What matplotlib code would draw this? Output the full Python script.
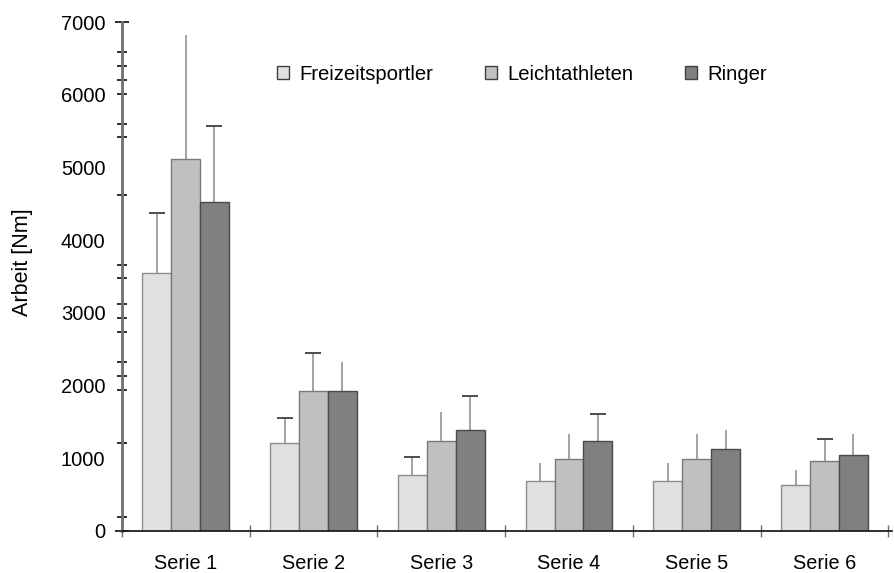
import numpy as np
import matplotlib
matplotlib.use("Agg")
from matplotlib import pyplot as plt

plt.rcParams['font.family'] = ['Liberation Sans', 'DejaVu Sans']

serien = ["Serie 1", "Serie 2", "Serie 3", "Serie 4", "Serie 5", "Serie 6"]
gruppen = ["Freizeitsportler", "Leichtathleten", "Ringer"]

freizeit = [3550, 1205, 770, 690, 690, 630]
freizeit_sd = [820, 355, 245, 240, 240, 210]
leicht = [5115, 1925, 1235, 985, 985, 965]
leicht_sd = [1705, 520, 400, 350, 350, 295]
ringer = [4525, 1925, 1390, 1235, 1125, 1040]
ringer_sd = [1045, 400, 470, 380, 265, 295]

# which error bars have a visible cap in the original
freizeit_cap = [1, 1, 1, 0, 0, 0]
leicht_cap = [0, 1, 0, 0, 0, 1]
ringer_cap = [1, 0, 1, 1, 0, 0]

y_labels = [0, 1000, 2000, 3000, 4000, 5000, 6000, 7000]
y_minor = [190, 1205, 1940, 2130, 2330, 2735, 2925, 3120, 3480, 3660,
           4620, 5415, 5600, 6010, 6200, 6400, 6590]

farben = ["#e0e0e0", "#c0c0c0", "#808080"]
kanten = ["#8c8c8c", "#7a7a7a", "#4a4a4a"]

fig = plt.figure(figsize=(8.95, 5.73), dpi=100)
ax = fig.add_axes([0.136, 0.0733, 0.861, 0.888])

x = np.arange(len(serien))
w = 0.226
daten = [(freizeit, freizeit_sd, freizeit_cap),
         (leicht, leicht_sd, leicht_cap),
         (ringer, ringer_sd, ringer_cap)]
for i, (werte, sd, cap) in enumerate(daten):
    pos = x + (i - 1) * w
    ax.bar(pos, werte, w, color=farben[i], edgecolor=kanten[i], linewidth=1.0,
           label=gruppen[i], zorder=2)
    for j in range(len(serien)):
        ax.errorbar(pos[j], werte[j], yerr=[[0], [sd[j]]], fmt='none',
                    ecolor="#8a8a8a", elinewidth=1.1, capsize=0, zorder=1)
        # darker cap line
        if cap[j]:
            ax.errorbar(pos[j], werte[j] + sd[j], yerr=[[0], [0]], fmt='none',
                        ecolor="#505050", elinewidth=0, capsize=5.5,
                        capthick=1.3, zorder=1)

ax.set_xlim(-0.5, 5.53)
ax.set_ylim(0, 7000)

ax.set_xticks(np.arange(-0.5, 6, 1.0))
ax.set_xticklabels([])
ax.set_xticks(x, minor=True)
ax.set_xticklabels(serien, minor=True, fontsize=14.3)
ax.tick_params(axis='x', which='major', direction='inout', length=8.5,
               width=1.0, color="#707070")
ax.tick_params(axis='x', which='minor', length=0, pad=16.5)

ax.set_yticks(y_labels)
ax.set_yticklabels([str(v) for v in y_labels], fontsize=14.5)
ax.set_yticks(y_minor, minor=True)
ax.tick_params(axis='y', which='major', direction='inout', length=9.4,
               width=1.4, color="#303030", pad=7)
ax.tick_params(axis='y', which='minor', direction='inout', length=6.5,
               width=1.4, color="#303030")
for t, v in zip(ax.yaxis.get_major_ticks(), y_labels):
    if v not in (0, 7000):
        t.tick1line.set_visible(False)

ax.spines['top'].set_visible(False)
ax.spines['right'].set_visible(False)
ax.spines['left'].set_color("#707070")
ax.spines['left'].set_linewidth(2.0)
ax.spines['bottom'].set_color("#202020")
ax.spines['bottom'].set_linewidth(1.3)

ax.set_ylabel("Arbeit [Nm]", fontsize=15.5)
ax.yaxis.set_label_coords(-0.115, 0.529)

leg = ax.legend(loc='center left', bbox_to_anchor=(277 / 895, 1 - 74 / 573),
                bbox_transform=fig.transFigure, ncol=3, frameon=False,
                fontsize=14.6, handlelength=0.6, handleheight=0.6,
                handletextpad=0.5, columnspacing=2.55, borderpad=0,
                borderaxespad=0)
for h in leg.legend_handles:
    h.set_edgecolor("#404040")
    h.set_linewidth(1.0)

fig.savefig("out.png", dpi=100)
